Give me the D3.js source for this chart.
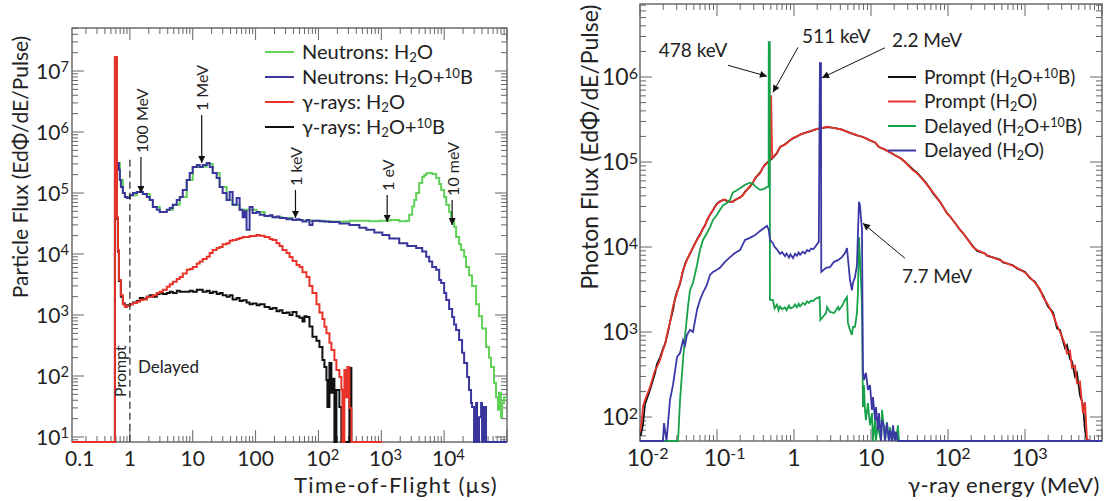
<!DOCTYPE html>
<html>
<head>
<meta charset="utf-8">
<script src="https://cdn.jsdelivr.net/npm/d3@7"></script>
<style>
  html, body { margin: 0; padding: 0; background: #fff; }
  svg { display: block; font-family: "Lato", "Open Sans", sans-serif; }
</style>
</head>
<body>
<svg id="chart" width="1112" height="501"></svg>
<script>
// ---------------- Time-of-flight panel (left) ----------------
// x: time of flight (µs), y: particle flux per pulse; 0 = empty bin
const tofTicks = [0.1, 1, 10, 100, 1e3, 1e4, 1e5];
const tofTickLabels = ["0.1", "1", "10", "100", "10^2", "10^3", "10^4"];
const tofFluxTicks = [1e1, 1e2, 1e3, 1e4, 1e5, 1e6, 1e7];
const tofFluxTickLabels = ["10^1", "10^2", "10^3", "10^4", "10^5", "10^6", "10^7"];

const tofNeutronH2O = [
  [0.645,3.1e5],[0.693,1.63e5],[0.774,1.0e5],[0.833,8.6e4],[1.0,9.2e4],[1.29,1.04e5],[1.61,9.6e4],
  [2.07,7.7e4],[2.32,5.9e4],[2.99,4.9e4],[3.87,5.3e4],[4.82,6.4e4],[6.22,8.6e4],[8.03,1.63e5],
  [10,2.67e5],[12.9,2.7e5],[16.7,3.0e5],[20.8,2.13e5],[26.8,1.25e5],[34.6,7.7e4],[43.1,6.4e4],
  [55.7,5.3e4],[80.3,5.3e4],[104,4.9e4],[139,4.2e4],[186,4.0e4],[268,3.9e4],[387,3.6e4],[557,3.5e4],
  [803,3.5e4],[1245,3.4e4],[1668,3.4e4],[2154,3.4e4],[3106,3.5e4],[4478,3.5e4],[6456,3.45e4],
  [9290,3.5e4],[1.34e4,3.6e4],[1.93e4,3.45e4],[2.49e4,3.5e4],[2.78e4,4.4e4],[3.10e4,6.0e4],
  [3.34e4,7.7e4],[3.59e4,1.0e5],[4.01e4,1.46e5],[4.48e4,1.83e5],[4.82e4,1.97e5],[5.18e4,2.1e5],
  [5.78e4,2.13e5],[6.45e4,2.05e5],[7.46e4,1.76e5],[8.34e4,1.4e5],[8.96e4,1.12e5],[1.0e5,8.6e4],
  [1.08e5,6.4e4],[1.20e5,4.9e4],[1.29e5,3.6e4],[1.44e5,2.8e4],[1.55e5,1.9e4],[1.73e5,1.45e4],
  [1.86e5,1.16e4],[2.08e5,9.0e3],[2.23e5,6.1e3],[2.49e5,4.5e3],[2.78e5,3.0e3],[3.22e5,1.5e3],
  [3.59e5,950],[4.01e5,600],[4.64e5,300],[5.18e5,200],[5.57e5,140],[6.22e5,77],[6.69e5,45],
  [7.19e5,28],[7.46e5,53],[8.03e5,21],[8.34e5,36],[8.96e5,45],[1e6,45]
];

const tofNeutronH2OB = [
  [0.645,3.1e5],[0.669,2.4e5],[0.693,1.63e5],[0.719,1.25e5],[0.774,1.0e5],[0.833,8.6e4],[0.896,8.3e4],
  [1.0,9.2e4],[1.12,1.0e5],[1.29,1.04e5],[1.44,1.04e5],[1.61,9.6e4],[1.86,8.6e4],[2.07,7.7e4],
  [2.32,5.9e4],[2.68,5.3e4],[2.99,4.9e4],[3.34,4.9e4],[3.87,5.3e4],[4.31,5.7e4],[4.82,6.4e4],
  [5.57,7.7e4],[6.22,8.6e4],[6.94,1.12e5],[8.03,1.63e5],[8.96,2.13e5],[10,2.67e5],[11.6,2.88e5],
  [12.9,2.67e5],[14.4,2.88e5],[16.7,3.1e5],[18.6,2.67e5],[20.8,2.13e5],[24.0,1.76e5],[26.8,1.25e5],
  [29.9,1.0e5],[34.6,7.7e4],[38.7,1.04e5],[43.1,6.4e4],[49.9,8.3e4],[55.7,5.3e4],[62.2,4.0e4],
  [66.9,5.0e4],[71.9,2.5e4],[80.3,5.9e4],[89.6,4.7e4],[104,4.9e4],[116,4.4e4],[139,4.2e4],
  [167,4.3e4],[186,4.0e4],[215,4.1e4],[240,3.9e4],[268,3.9e4],[310,3.7e4],[347,3.8e4],[387,3.6e4],
  [448,3.7e4],[500,3.6e4],[557,3.4e4],[645,3.6e4],[720,3.0e4],[803,3.5e4],[930,3.5e4],[1037,3.45e4],
  [1245,3.4e4],[1496,3.35e4],[1668,3.35e4],[2154,3.15e4],[3106,3.0e4],[4478,2.7e4],[5779,2.5e4],
  [7750,2.25e4],[1.04e4,2.05e4],[1.34e4,1.8e4],[1.93e4,1.5e4],[2.59e4,1.35e4],[3.59e4,1.25e4],
  [4.48e4,1.1e4],[5.18e4,9.0e3],[5.78e4,7.5e3],[6.45e4,6.1e3],[7.46e4,5.5e3],[8.34e4,3.75e3],
  [8.96e4,3.35e3],[1.0e5,2.3e3],[1.08e5,1.76e3],[1.20e5,1.25e3],[1.34e5,930],[1.44e5,700],
  [1.55e5,570],[1.73e5,390],[1.93e5,240],[2.08e5,163],[2.32e5,96],[2.49e5,59],[2.68e5,36],
  [2.78e5,31],[2.99e5,0],[3.22e5,36],[3.34e5,0],[3.59e5,21],[3.87e5,36],[4.01e5,0],[4.31e5,31],
  [4.64e5,0],[1e6,0]
];

const tofGammaH2O = [
  [0.12,0],[0.578,1.7e7],[0.622,4.0e4],[0.645,1.16e4],[0.669,3.75e3],[0.719,2.1e3],[0.774,1.5e3],
  [0.833,1.35e3],[0.896,1.4e3],[1.0,1.5e3],[1.12,1.57e3],[1.29,1.65e3],[1.44,1.76e3],[1.61,1.8e3],
  [1.86,2.0e3],[2.07,2.0e3],[2.32,2.1e3],[2.68,2.3e3],[2.99,2.4e3],[3.34,2.6e3],[3.87,2.9e3],
  [4.31,3.2e3],[4.82,3.5e3],[5.57,3.9e3],[6.22,4.2e3],[6.94,4.8e3],[8.03,5.5e3],[8.96,5.7e3],
  [10,6.1e3],[11.6,7.0e3],[12.9,7.5e3],[14.4,8.3e3],[16.7,9.0e3],[18.6,1.04e4],[20.8,1.16e4],
  [24.0,1.25e4],[26.8,1.3e4],[29.9,1.45e4],[34.6,1.5e4],[38.7,1.65e4],[43.1,1.7e4],[49.9,1.76e4],
  [55.7,1.83e4],[62.2,1.9e4],[71.9,1.9e4],[80.3,1.97e4],[89.6,1.97e4],[104,2.05e4],[116,2.0e4],
  [139,1.9e4],[167,1.76e4],[186,1.7e4],[215,1.5e4],[240,1.35e4],[268,1.16e4],[310,1.04e4],
  [347,8.9e3],[387,7.7e3],[448,6.6e3],[500,6.1e3],[557,5.0e3],[645,4.2e3],[720,3.0e3],[803,2.3e3],
  [930,1.5e3],[1037,1.1e3],[1157,860],[1245,640],[1340,500],[1496,350],[1608,267],[1795,183],
  [1931,125],[2154,96],[2316,60],[2404,0],[2588,125],[2700,45],[2886,140],[3106,30],[3343,0],
  [1.04e4,0]
];

const tofGammaH2OB = [
  [0.12,0],[0.578,1.6e7],[0.622,3.8e4],[0.645,1.1e4],[0.669,3.6e3],[0.719,2.0e3],[0.774,1.55e3],
  [0.833,1.4e3],[0.896,1.45e3],[1.0,1.5e3],[1.12,1.6e3],[1.29,1.7e3],[1.44,1.9e3],[1.61,1.85e3],
  [1.86,2.0e3],[2.07,2.1e3],[2.32,2.0e3],[2.68,2.2e3],[2.99,2.3e3],[3.34,2.2e3],[3.87,2.3e3],
  [4.31,2.4e3],[4.82,2.3e3],[5.57,2.5e3],[6.22,2.4e3],[6.94,2.4e3],[8.03,2.4e3],[8.96,2.5e3],
  [10,2.4e3],[11.6,2.6e3],[12.9,2.6e3],[14.4,2.4e3],[16.7,2.5e3],[18.6,2.3e3],[20.8,2.4e3],
  [24.0,2.2e3],[26.8,2.3e3],[29.9,2.1e3],[34.6,2.0e3],[38.7,2.1e3],[43.1,1.8e3],[49.9,1.9e3],
  [55.7,1.7e3],[62.2,1.75e3],[71.9,1.6e3],[80.3,1.5e3],[89.6,1.55e3],[104,1.45e3],[116,1.5e3],
  [139,1.35e3],[150,1.35e3],[167,1.25e3],[186,1.3e3],[215,1.15e3],[240,1.2e3],[268,1.08e3],
  [310,1.1e3],[347,1.0e3],[387,1.12e3],[448,950],[500,900],[557,780],[600,950],[645,930],
  [720,650],[803,440],[930,380],[1037,300],[1157,183],[1245,140],[1340,86],[1390,31],[1496,163],
  [1608,53],[1668,90],[1795,0],[1931,59],[2154,31],[2316,0],[3106,135],[3343,0],[3467,0]
];

// ---------------- Gamma-ray energy panel (right) ----------------
// x: gamma-ray energy (MeV), y: photon flux per pulse; 0 = empty bin
const energyTicks = [0.01, 0.1, 1, 10, 100, 1000];
const energyTickLabels = ["10^-2", "10^-1", "1", "10", "10^2", "10^3"];
const photonFluxTicks = [1e2, 1e3, 1e4, 1e5, 1e6];
const photonFluxTickLabels = ["10^2", "10^3", "10^4", "10^5", "10^6"];

const egPromptH2OB = [
  [0.0102,60],[0.0109,80],[0.0116,140],[0.0135,210],[0.0157,330],[0.0166,420],[0.0182,500],
  [0.0199,640],[0.0211,720],[0.0231,1.0e3],[0.0245,1.3e3],[0.0268,1.8e3],[0.0285,2.5e3],
  [0.0303,3.0e3],[0.0331,3.7e3],[0.0362,5.2e3],[0.0384,6.3e3],[0.0407,7.1e3],[0.0446,8.3e3],
  [0.0488,9.9e3],[0.0518,1.1e4],[0.055,1.23e4],[0.0601,1.4e4],[0.0658,1.65e4],[0.0698,1.8e4],
  [0.0741,2.05e4],[0.0811,2.4e4],[0.0887,2.7e4],[0.0942,3.0e4],[0.1,3.25e4],[0.109,3.45e4],
  [0.12,3.55e4],[0.127,3.6e4],[0.135,3.45e4],[0.148,3.4e4],[0.161,3.45e4],[0.171,3.55e4],
  [0.199,3.85e4],[0.218,4.1e4],[0.231,4.5e4],[0.268,5.1e4],[0.294,5.8e4],[0.312,6.4e4],
  [0.362,7.5e4],[0.396,8.6e4],[0.42,9.3e4],[0.446,9.8e4],[0.488,1.05e5],[0.52,1.1e5],
  [0.601,1.27e5],[0.658,1.5e5],[0.764,1.62e5],[0.887,1.8e5],[0.97,1.9e5],[1.09,2.0e5],
  [1.2,2.1e5],[1.39,2.2e5],[1.61,2.3e5],[1.99,2.45e5],[2.31,2.5e5],[2.69,2.58e5],[2.94,2.55e5],
  [3.41,2.5e5],[4.2,2.4e5],[5.33,2.2e5],[6.77,2.05e5],[7.86,1.97e5],[9.7,1.8e5],[11.3,1.7e5],
  [12.7,1.5e5],[15.2,1.4e5],[17.7,1.3e5],[20.5,1.2e5],[24.5,1.1e5],[27.7,1.0e5],[35.1,8.2e4],
  [39.5,7.5e4],[50.2,5.9e4],[58.3,4.9e4],[63.8,4.3e4],[78.7,3.4e4],[97,2.5e4],[106,2.3e4],
  [143,1.6e4],[157,1.45e4],[211,1.02e4],[238,9.0e3],[303,8.4e3],[321,7.9e3],[473,7.1e3],
  [518,6.6e3],[698,6.1e3],[787,5.6e3],[1000,5.1e3],[1161,4.3e3],[1349,3.9e3],[1567,3.1e3],
  [1715,2.7e3],[1991,2.0e3],[2312,1.7e3],[2606,1.1e3],[2851,1.05e3],[3307,650],[3511,700],
  [3840,480],[4076,450],[4458,300],[4732,330],[5175,180],[5660,140],[6009,70],[6380,0],[6977,0]
];

const egPromptH2O = [
  [0.01,67],[0.0106,92],[0.0109,131],[0.0116,158],[0.0135,225],[0.0157,357],[0.0166,387],
  [0.0182,469],[0.0199,614],[0.0211,703],[0.0231,1.06e3],[0.0245,1.28e3],[0.0268,2.0e3],
  [0.0285,2.4e3],[0.0303,2.9e3],[0.0331,3.8e3],[0.0362,5.4e3],[0.0384,6.1e3],[0.0407,7.0e3],
  [0.0446,8.5e3],[0.0488,9.7e3],[0.0518,1.11e4],[0.055,1.21e4],[0.0601,1.38e4],[0.0658,1.67e4],
  [0.0698,1.77e4],[0.0741,2.08e4],[0.0811,2.38e4],[0.0887,2.72e4],[0.0942,2.96e4],[0.1,3.2e4],
  [0.109,3.4e4],[0.12,3.6e4],[0.127,3.6e4],[0.135,3.5e4],[0.148,3.4e4],[0.161,3.4e4],[0.171,3.6e4],
  [0.199,3.8e4],[0.218,4.1e4],[0.231,4.4e4],[0.268,5.2e4],[0.294,5.7e4],[0.312,6.5e4],[0.362,7.4e4],
  [0.396,8.7e4],[0.42,9.2e4],[0.446,9.7e4],[0.488,1.06e5],[0.505,6.1e5],[0.52,1.12e5],[0.601,1.28e5],
  [0.658,1.5e5],[0.764,1.6e5],[0.887,1.8e5],[0.97,1.92e5],[1.09,2.0e5],[1.2,2.1e5],[1.39,2.2e5],
  [1.61,2.3e5],[1.99,2.45e5],[2.31,2.5e5],[2.69,2.6e5],[2.94,2.55e5],[3.41,2.5e5],[4.2,2.4e5],
  [5.33,2.2e5],[6.77,2.05e5],[7.86,1.97e5],[9.7,1.8e5],[11.3,1.7e5],[12.7,1.5e5],[15.2,1.4e5],
  [17.7,1.3e5],[20.5,1.2e5],[24.5,1.1e5],[27.7,1.0e5],[35.1,8.0e4],[39.5,7.4e4],[50.2,5.8e4],
  [58.3,4.9e4],[63.8,4.4e4],[78.7,3.4e4],[97,2.5e4],[106,2.3e4],[143,1.6e4],[157,1.46e4],
  [211,1.0e4],[238,9.2e3],[303,8.3e3],[321,8.0e3],[473,7.0e3],[518,6.7e3],[698,6.0e3],[787,5.7e3],
  [1000,5.0e3],[1161,4.4e3],[1349,3.8e3],[1567,3.2e3],[1715,2.58e3],[1991,2.1e3],[2312,1.6e3],
  [2606,1.2e3],[2851,1.0e3],[3307,720],[3511,560],[3840,600],[4076,380],[4458,400],[4732,250],
  [5175,260],[5660,110],[6009,150],[6380,55],[6977,0]
];

const egDelayedH2OB = [
  [0.01,0],[0.0312,0],[0.0331,158],[0.0362,469],[0.0384,873],[0.042,2.0e3],[0.0446,3.1e3],
  [0.0488,3.8e3],[0.055,6.1e3],[0.0601,9.2e3],[0.0658,1.21e4],[0.0741,1.46e4],[0.0811,1.7e4],
  [0.0887,2.08e4],[0.1,2.4e4],[0.109,2.72e4],[0.12,3.1e4],[0.135,3.3e4],[0.148,3.6e4],[0.161,4.4e4],
  [0.171,4.5e4],[0.199,4.9e4],[0.218,5.2e4],[0.231,5.4e4],[0.268,5.7e4],[0.294,5.5e4],[0.312,5.2e4],
  [0.362,4.7e4],[0.396,4.8e4],[0.42,4.9e4],[0.446,5.1e4],[0.468,5.1e4],[0.47,2.58e6],[0.485,2.58e6],
  [0.487,2.4e3],[0.533,2.38e3],
  [0.56,1.9e3],[0.601,2.1e3],[0.63,1.8e3],[0.658,2.0e3],[0.7,1.85e3],[0.764,1.95e3],[0.8,1.8e3],
  [0.861,2.05e3],[0.9,1.9e3],[0.97,1.95e3],[1.03,2.1e3],[1.09,1.95e3],[1.15,2.15e3],[1.2,2.0e3],
  [1.3,2.2e3],[1.39,2.1e3],[1.48,2.3e3],[1.57,2.2e3],[1.67,2.35e3],[1.77,2.3e3],[1.88,2.45e3],
  [1.99,2.5e3],[2.15,2.58e3],[2.2,1.38e3],[2.31,1.46e3],[2.61,1.67e3],[2.69,1.97e3],[2.94,1.72e3],
  [3.31,1.67e3],[3.73,1.97e3],[3.84,1.82e3],[4.2,2.02e3],[4.59,2.38e3],[4.88,2.58e3],[5.02,1.28e3],
  [5.33,1.06e3],[5.66,922],[5.83,1.15e3],[6.19,1.15e3],[6.57,1.67e3],[6.77,2.9e3],[6.98,1.31e4],
  [7.41,4.1e3],[7.63,2.0e3],[7.86,131],[8.1,238],[8.35,121],[8.6,92],[9.13,146],[9.7,80],[10.3,111],
  [10.6,0],[11.3,92],[11.6,0],[12.3,85],[12.7,67],[13.5,0],[13.9,121],[14.8,70],[15.2,0],[16.1,87],
  [17.1,0],[17.7,76],[18.7,0],[20.5,67],[21.1,0],[22.4,80],[23.1,0],[1e4,0]
];

const egDelayedH2O = [
  [0.01,0],[0.0199,0],[0.0205,85],[0.0221,0],[0.0245,158],[0.0268,238],[0.0303,508],[0.0331,566],
  [0.0362,805],[0.0384,700],[0.0407,922],[0.0446,1.06e3],[0.0488,1.0e3],[0.055,1.82e3],
  [0.0601,2.38e3],[0.0658,2.9e3],[0.0741,3.6e3],[0.0811,4.7e3],[0.0887,5.1e3],[0.1,5.4e3],
  [0.109,5.7e3],[0.127,6.7e3],[0.148,7.6e3],[0.171,8.5e3],[0.199,9.2e3],[0.231,1.21e4],
  [0.268,1.28e4],[0.312,1.38e4],[0.362,1.54e4],[0.408,1.67e4],[0.446,1.77e4],[0.47,1.6e4],
  [0.488,1.21e4],[0.533,1.11e4],[0.56,1.0e4],[0.601,9.4e3],[0.63,8.8e3],[0.658,8.3e3],[0.7,8.7e3],
  [0.764,7.8e3],[0.8,8.4e3],[0.861,7.5e3],[0.9,8.2e3],[0.97,7.4e3],[1.03,8.3e3],[1.09,7.9e3],
  [1.15,8.6e3],[1.2,8.1e3],[1.3,8.8e3],[1.39,8.4e3],[1.48,9.2e3],[1.57,8.9e3],[1.67,9.6e3],
  [1.77,9.4e3],[1.88,1.0e4],[1.99,1.08e4],[2.1,1.15e4],[2.17,1.46e6],[2.24,1.46e6],[2.26,5.1e3],
  [2.61,5.7e3],
  [2.94,5.8e3],[3.31,6.7e3],[3.73,7.0e3],[4.2,7.6e3],[4.59,8.5e3],[4.88,9.7e3],[5.33,4.1e3],
  [5.66,3.1e3],[5.83,3.8e3],[6.19,4.4e3],[6.57,6.1e3],[6.77,1.46e4],[6.98,3.4e4],[7.19,3.1e4],
  [7.41,2.2e4],[7.63,1.67e4],[7.86,357],[8.1,273],[8.6,330],[9.13,208],[9.7,238],[10.3,121],
  [10.6,172],[11.3,92],[11.6,131],[12.3,70],[12.7,111],[13.5,0],[13.9,92],[14.8,76],[15.2,0],
  [16.1,85],[17.1,0],[17.7,70],[18.7,0],[19.3,80],[20.5,0],[21.1,67],[22.4,0],[1e4,0]
];

// Energy markers: time of flight / photon line, and flux at the arrow tip
const tofMarkers = [
  { label: "100 MeV", t: 1.5,    flux: 1.0e5 },
  { label: "1 MeV",   t: 13.9,   flux: 3.1e5 },
  { label: "1 keV",   t: 431,    flux: 3.9e4 },
  { label: "1 eV",    t: 1.24e4, flux: 3.35e4 },
  { label: "10 meV",  t: 1.34e5, flux: 3.0e4 }
];
const gammaLines = [
  { label: "478 keV", e: 0.446, flux: 1.02e6 },
  { label: "511 keV", e: 0.533, flux: 6.6e5 },
  { label: "2.2 MeV", e: 2.31,  flux: 9.8e5 },
  { label: "7.7 MeV", e: 7.86,  flux: 1.9e4 }
];

// ---------------- drawing ----------------
const svg = d3.select("#chart");
const defs = svg.append("defs");
defs.append("marker")
  .attr("id", "arrowhead").attr("viewBox", "0 0 10 10")
  .attr("refX", 10).attr("refY", 5)
  .attr("markerWidth", 9).attr("markerHeight", 7)
  .attr("markerUnits", "userSpaceOnUse").attr("orient", "auto")
  .append("path").attr("d", "M0,0L10,5L0,10z").attr("fill", "#111");

// text with "10^n" style exponents
function powerLabel(sel, label) {
  const parts = label.split("^");
  sel.append("tspan").attr("class", "base").text(parts[0]);
  if (parts.length > 1) {
    sel.append("tspan").attr("dy", "-0.42em").attr("font-size", "0.7em").text(parts[1]);
  }
}

// rich text: parts = [[text, mode]], mode "" | "sub" | "sup"
function richText(sel, parts, size) {
  let shift = 0;
  parts.forEach(([txt, mode]) => {
    const target = mode === "sub" ? 0.18 * size : mode === "sup" ? -0.3 * size : 0;
    const t = sel.append("tspan").attr("dy", target - shift).text(txt);
    if (mode) t.attr("font-size", 0.66 * size);
    shift = target;
  });
}

function logTicks(domain) {
  const out = [];
  const e0 = Math.floor(Math.log10(domain[0])), e1 = Math.ceil(Math.log10(domain[1]));
  for (let e = e0; e <= e1; e++) {
    for (let k = 1; k <= 9; k++) {
      const v = k * Math.pow(10, e);
      if (v >= domain[0] * 0.9999 && v <= domain[1] * 1.0001) out.push({ v, major: k === 1 });
    }
  }
  return out;
}

function drawPanel(p) {
  const x = d3.scaleLog().domain(p.xDomain).range([p.left, p.right]);
  const y = d3.scaleLog().domain(p.yDomain).range([p.bottom, p.top]);
  const g = svg.append("g");

  // frame
  g.append("rect")
    .attr("x", p.left).attr("y", p.top)
    .attr("width", p.right - p.left).attr("height", p.bottom - p.top)
    .attr("fill", "none").attr("stroke", "#555").attr("stroke-width", 1.3);

  // ticks on all four sides
  const tk = g.append("g").attr("stroke", "#666").attr("stroke-width", 1);
  const majorLen = 12, minorLen = 6;
  logTicks(x.domain()).forEach(t => {
    const xx = x(t.v), len = t.major ? majorLen : minorLen;
    tk.append("line").attr("x1", xx).attr("x2", xx).attr("y1", p.bottom).attr("y2", p.bottom - len);
    tk.append("line").attr("x1", xx).attr("x2", xx).attr("y1", p.top).attr("y2", p.top + len);
  });
  logTicks(y.domain()).forEach(t => {
    const yy = y(t.v), len = t.major ? majorLen : minorLen;
    tk.append("line").attr("y1", yy).attr("y2", yy).attr("x1", p.left).attr("x2", p.left + len);
    tk.append("line").attr("y1", yy).attr("y2", yy).attr("x1", p.right).attr("x2", p.right - len);
  });

  // x tick labels: base number centred on the tick
  p.xTicks.forEach((v, i) => {
    const t = g.append("text").attr("y", p.xLabelBaseline)
      .attr("font-size", p.tickFont).attr("fill", "#222");
    powerLabel(t, p.xTickLabels[i]);
    const baseW = t.select(".base").node().getComputedTextLength();
    if (v < x.domain()[0]) {
      t.attr("x", p.left - 7);
    } else {
      t.attr("x", x(v) - baseW / 2);
    }
  });

  // y tick labels
  p.yTicks.forEach((v, i) => {
    const t = g.append("text").attr("x", p.left - p.yLabelGap).attr("y", y(v))
      .attr("dy", "0.36em").attr("text-anchor", "end")
      .attr("font-size", p.tickFont).attr("fill", "#222");
    powerLabel(t, p.yTickLabels[i]);
  });

  // series
  const clipId = p.id + "-clip";
  defs.append("clipPath").attr("id", clipId).append("rect")
    .attr("x", p.left).attr("y", p.top - 1)
    .attr("width", p.right - p.left).attr("height", p.bottom - p.top + 3);
  const line = d3.line().curve(p.curve)
    .x(d => x(Math.max(d[0], p.xDomain[0])))
    .y(d => y(Math.max(d[1], p.yDomain[0])));
  const plot = svg.append("g").attr("clip-path", `url(#${clipId})`);
  p.series.forEach(s => {
    plot.append("path").attr("d", line(s.values))
      .attr("fill", "none").attr("stroke", s.color)
      .attr("stroke-width", p.lineWidth).attr("stroke-linejoin", "miter");
  });

  // legend
  const lg = svg.append("g");
  p.legend.forEach((s, i) => {
    const yy = p.legendTop + i * p.legendStep;
    lg.append("line").attr("x1", p.legendX).attr("x2", p.legendX + p.legendLine)
      .attr("y1", yy).attr("y2", yy).attr("stroke", s.color).attr("stroke-width", 2);
    const t = lg.append("text").attr("x", p.legendX + p.legendLine + p.legendGap)
      .attr("y", yy + 6.5).attr("font-size", p.legendFont).attr("fill", "#222");
    richText(t, s.label, p.legendFont);
  });

  return { x, y };
}

// ----- left panel -----
const H2Osub = [["H", ""], ["2", "sub"], ["O", ""]];
const tof = drawPanel({
  id: "tof", left: 72, right: 507, top: 28, bottom: 442,
  xDomain: [0.12, 1e6], yDomain: [8.28, 5.07e7],
  xTicks: tofTicks, xTickLabels: tofTickLabels,
  yTicks: tofFluxTicks, yTickLabels: tofFluxTickLabels,
  tickFont: 21, xLabelBaseline: 466, yLabelGap: 3, lineWidth: 2,
  curve: d3.curveStepAfter,
  series: [
    { values: tofNeutronH2O, color: "#62d158" },
    { values: tofNeutronH2OB, color: "#3a359c" },
    { values: tofGammaH2OB, color: "#111111" },
    { values: tofGammaH2O, color: "#e8332a" }
  ],
  legend: [
    { color: "#62d158", label: [["Neutrons: ", ""], ...H2Osub] },
    { color: "#3a359c", label: [["Neutrons: ", ""], ...H2Osub, ["+", ""], ["10", "sup"], ["B", ""]] },
    { color: "#e8332a", label: [["\u03b3-rays: ", ""], ...H2Osub] },
    { color: "#111111", label: [["\u03b3-rays: ", ""], ...H2Osub, ["+", ""], ["10", "sup"], ["B", ""]] }
  ],
  legendX: 265, legendLine: 29, legendGap: 8, legendTop: 52, legendStep: 25, legendFont: 20
});

// ----- right panel -----
const eg = drawPanel({
  id: "eg", left: 640, right: 1102, top: 4, bottom: 441,
  xDomain: [0.01, 1e4], yDomain: [52.2, 7.23e6],
  xTicks: energyTicks, xTickLabels: energyTickLabels,
  yTicks: photonFluxTicks, yTickLabels: photonFluxTickLabels,
  tickFont: 23, xLabelBaseline: 466, yLabelGap: 2, lineWidth: 1.8,
  curve: d3.curveLinear,
  series: [
    { values: egPromptH2OB, color: "#111111" },
    { values: egPromptH2O, color: "#e8332a" },
    { values: egDelayedH2OB, color: "#17a24a" },
    { values: egDelayedH2O, color: "#3b38a6" }
  ],
  legend: [
    { color: "#111111", label: [["Prompt (", ""], ...H2Osub, ["+", ""], ["10", "sup"], ["B)", ""]] },
    { color: "#e8332a", label: [["Prompt (", ""], ...H2Osub, [")", ""]] },
    { color: "#17a24a", label: [["Delayed (", ""], ...H2Osub, ["+", ""], ["10", "sup"], ["B)", ""]] },
    { color: "#3b38a6", label: [["Delayed (", ""], ...H2Osub, [")", ""]] }
  ],
  legendX: 888, legendLine: 28, legendGap: 8, legendTop: 77, legendStep: 24.5, legendFont: 19
});

// ----- annotations, left -----
const ann = svg.append("g");
const tofStemLengths = [36, 48, 28, 27, 25];
tofMarkers.forEach((m, i) => {
  const xt = tof.x(m.t), yt = tof.y(m.flux), y0 = yt - tofStemLengths[i];
  ann.append("line").attr("x1", xt).attr("x2", xt).attr("y1", y0).attr("y2", yt)
    .attr("stroke", "#111").attr("stroke-width", 1.2).attr("marker-end", "url(#arrowhead)");
  ann.append("text").attr("transform", `translate(${xt + 1},${y0 - 4}) rotate(-90)`)
    .attr("dy", "0.36em").attr("font-size", 16).attr("fill", "#222").text(m.label);
});

// prompt / delayed separator at 1 µs
const xSep = tof.x(1);
ann.append("line").attr("x1", xSep).attr("x2", xSep)
  .attr("y1", tof.y(3.5e5)).attr("y2", 442)
  .attr("stroke", "#333").attr("stroke-width", 1.3).attr("stroke-dasharray", "7,4");
ann.append("text").attr("transform", `translate(${xSep - 4},397) rotate(-90)`)
  .attr("font-size", 16).attr("fill", "#222").text("Prompt");
ann.append("text").attr("x", xSep + 8).attr("y", 373)
  .attr("font-size", 17).attr("fill", "#222").text("Delayed");

// ----- annotations, right -----
const gammaLayout = [
  { tail: [-39, -11], text: [-74, -19], anchor: "middle" },
  { tail: [25, -45],  text: [29, -49],  anchor: "start" },
  { tail: [63, -30],  text: [70, -31],  anchor: "start" },
  { tail: [42, 35],   text: [39, 60],   anchor: "start" }
];
gammaLines.forEach((m, i) => {
  const xt = eg.x(m.e), yt = eg.y(m.flux), L = gammaLayout[i];
  ann.append("line").attr("x1", xt + L.tail[0]).attr("y1", yt + L.tail[1])
    .attr("x2", xt).attr("y2", yt)
    .attr("stroke", "#111").attr("stroke-width", 1).attr("marker-end", "url(#arrowhead)");
  ann.append("text").attr("x", xt + L.text[0]).attr("y", yt + L.text[1])
    .attr("text-anchor", L.anchor).attr("font-size", 19).attr("fill", "#222").text(m.label);
});

// ----- axis titles -----
svg.append("text").attr("x", 396).attr("y", 493).attr("text-anchor", "middle")
  .attr("font-size", 22).attr("letter-spacing", 1.4).attr("fill", "#222")
  .text("Time-of-Flight (\u03bcs)");
svg.append("text").attr("x", 1100).attr("y", 493).attr("text-anchor", "end")
  .attr("font-size", 22).attr("letter-spacing", 0.5).attr("fill", "#222")
  .text("\u03b3-ray energy (MeV)");
svg.append("text").attr("transform", "translate(28,167) rotate(-90)").attr("text-anchor", "middle")
  .attr("font-size", 21).attr("fill", "#222")
  .text("Particle Flux (Ed\u03a6/dE/Pulse)");
svg.append("text").attr("transform", "translate(598,147) rotate(-90)").attr("text-anchor", "middle")
  .attr("font-size", 23).attr("fill", "#222")
  .text("Photon Flux (Ed\u03a6/dE/Pulse)");
</script>
</body>
</html>
